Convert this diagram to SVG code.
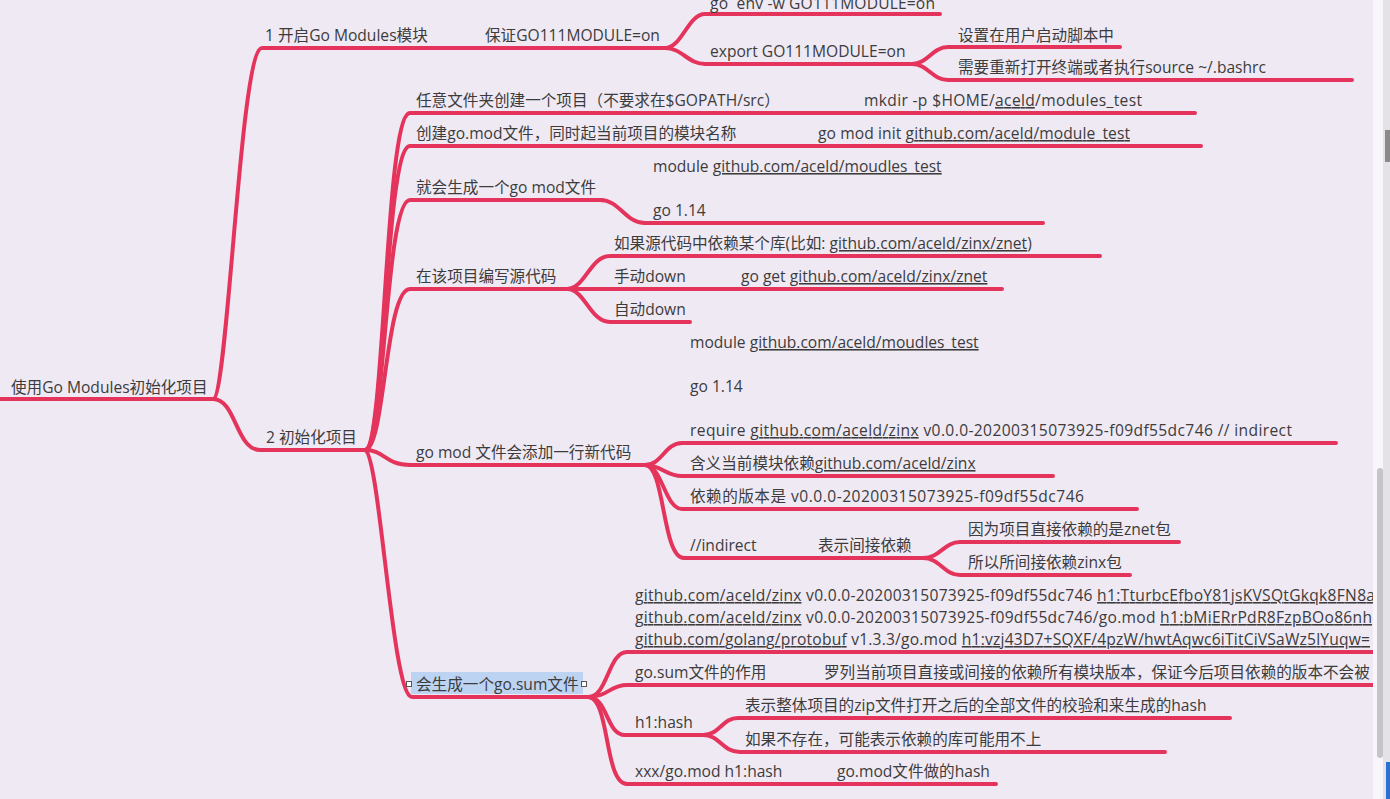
<svg xmlns="http://www.w3.org/2000/svg" width="1390" height="799" viewBox="0 0 1390 799">
<style>
.t{font-family:"Open Sans","Noto Sans CJK SC",sans-serif;font-size:15.6px;fill:#3c3c3c}
.l{fill:none;stroke:#e5345c;stroke-width:4;stroke-linecap:round;stroke-linejoin:round}
.u{text-decoration:underline}
.s{text-decoration:underline dotted #e0506e}
</style>
<defs>
<clipPath id="cv"><rect x="0" y="0" width="1373" height="799"/></clipPath>
</defs>
<rect width="1390" height="799" fill="#efe9f4"/>
<g clip-path="url(#cv)">
<g id="connectors">
<path class="l" d="M0,399 H213"/>
<path class="l" d="M213,399 C228,399 240,48 262,48 H667"/>
<path class="l" d="M665,48 C682,48 688,14 705,14 H940"/>
<path class="l" d="M665,48 C682,48 688,64 705,64 H912"/>
<path class="l" d="M912,64 C928,64 932,47 948,47 H1120"/>
<path class="l" d="M912,64 C928,64 932,80 948,80 H1352"/>
<path class="l" d="M213,399 C236,399 236,450 260,450 H365"/>
<path class="l" d="M365,450 C385,450 385,113 410,113 H1195"/>
<path class="l" d="M365,450 C385,450 385,146 410,146 H1201"/>
<path class="l" d="M365,450 C385,450 385,200 410,200 H602"/>
<path class="l" d="M600,200 C620,200 625,223 645,223 H1043"/>
<path class="l" d="M365,450 C385,450 385,289 410,289 H567"/>
<path class="l" d="M567,289 C585,289 590,256 610,256 H1100"/>
<path class="l" d="M567,289 H1002"/>
<path class="l" d="M567,289 C585,289 590,322 610,322 H690"/>
<path class="l" d="M365,450 C385,450 385,465 410,465 H645"/>
<path class="l" d="M645,465 C662,465 665,443 682,443 H1336"/>
<path class="l" d="M645,465 C662,465 665,476 682,476 H1053"/>
<path class="l" d="M645,465 C662,465 665,509 682,509 H1137"/>
<path class="l" d="M645,465 C665,465 662,558 684,558 H925"/>
<path class="l" d="M923,558 C940,558 944,542 960,542 H1179"/>
<path class="l" d="M923,558 C940,558 944,575 960,575 H1130"/>
<path class="l" d="M365,450 C380,455 392,697 412,697 H588"/>
<path class="l" d="M588,697 C608,697 608,652 627,652 H1380"/>
<path class="l" d="M588,697 C608,697 610,685 627,685 H1380"/>
<path class="l" d="M588,697 C608,697 606,735 625,735 H703"/>
<path class="l" d="M703,735 C720,735 722,718 738,718 H1230"/>
<path class="l" d="M703,735 C720,735 722,752 740,752 H1165"/>
<path class="l" d="M588,697 C610,697 604,784 627,784 H996"/>
</g>
<g id="root"><text class="t" x="11" y="393">使用Go Modules初始化项目</text></g>
<g id="n1"><text class="t" x="265" y="41">1 开启Go Modules模块</text></g>
<g id="n1-1"><text class="t" x="485" y="41">保证GO111MODULE=on</text></g>
<g id="n1-1-1"><text class="t" x="710" y="9" xml:space="preserve" textLength="225" lengthAdjust="spacing">go  env -w GO111MODULE=on</text></g>
<g id="n1-1-2"><text class="t" x="710" y="57">export GO111MODULE=on</text></g>
<g id="n1-1-2-1"><text class="t" x="958" y="41">设置在用户启动脚本中</text></g>
<g id="n1-1-2-2"><text class="t" x="958" y="73">需要重新打开终端或者执行source ~/.bashrc</text></g>
<g id="n2"><text class="t" x="266" y="443">2 初始化项目</text></g>
<g id="n2-a"><text class="t" x="416" y="106">任意文件夹创建一个项目（不要求在$GOPATH/src）</text></g>
<g id="n2-a-1"><text class="t" x="864" y="106" textLength="278" lengthAdjust="spacing">mkdir -p $HOME/<tspan class="s">aceld</tspan>/modules_test</text></g>
<g id="n2-b"><text class="t" x="416" y="139">创建go.mod文件，同时起当前项目的模块名称</text></g>
<g id="n2-b-1"><text class="t" x="818" y="139" textLength="312" lengthAdjust="spacing">go mod init <tspan class="u">github.com/aceld/module_test</tspan></text></g>
<g id="n2-c"><text class="t" x="416" y="193">就会生成一个go mod文件</text></g>
<g id="n2-c-1">
<text class="t" x="653" y="172">module <tspan class="u">github.com/aceld/moudles_test</tspan></text>
<text class="t" x="653" y="216">go 1.14</text>
</g>
<g id="n2-d"><text class="t" x="416" y="282">在该项目编写源代码</text></g>
<g id="n2-d-1"><text class="t" x="614" y="249">如果源代码中依赖某个库(比如: <tspan class="u">github.com/aceld/zinx/znet</tspan>)</text></g>
<g id="n2-d-2"><text class="t" x="614" y="282">手动down</text></g>
<g id="n2-d-2-1"><text class="t" x="741" y="282">go get <tspan class="u">github.com/aceld/zinx/znet</tspan></text></g>
<g id="n2-d-3"><text class="t" x="614" y="315">自动down</text></g>
<g id="n2-e"><text class="t" x="416" y="458">go mod 文件会添加一行新代码</text></g>
<g id="n2-e-1">
<text class="t" x="690" y="348">module <tspan class="u">github.com/aceld/moudles_test</tspan></text>
<text class="t" x="690" y="392">go 1.14</text>
<text class="t" x="690" y="436" textLength="602" lengthAdjust="spacing">require <tspan class="u">github.com/aceld/zinx</tspan> v0.0.0-20200315073925-f09df55dc746 // indirect</text>
</g>
<g id="n2-e-2"><text class="t" x="690" y="469">含义当前模块依赖<tspan class="u">github.com/aceld/zinx</tspan></text></g>
<g id="n2-e-3"><text class="t" x="690" y="502" textLength="394" lengthAdjust="spacing">依赖的版本是 v0.0.0-20200315073925-f09df55dc746</text></g>
<g id="n2-e-4"><text class="t" x="690" y="551">//indirect</text></g>
<g id="n2-e-4-1"><text class="t" x="818" y="551">表示间接依赖</text></g>
<g id="n2-e-4-1-1"><text class="t" x="968" y="535">因为项目直接依赖的是znet包</text></g>
<g id="n2-e-4-1-2"><text class="t" x="968" y="568">所以所间接依赖zinx包</text></g>
<g id="n2-f">
<rect x="411" y="672" width="172" height="22" fill="#bcd3f2"/>
<rect x="406.5" y="681.5" width="5" height="5" fill="#ffffff" stroke="#555" stroke-width="1"/>
<rect x="581.5" y="681.5" width="5" height="5" fill="#ffffff" stroke="#555" stroke-width="1"/>
<text class="t" x="416" y="690">会生成一个go.sum文件</text>
</g>
<g id="n2-f-1">
<text class="t" x="635" y="601" textLength="740" lengthAdjust="spacing"><tspan class="u">github.com/aceld/zinx</tspan> v0.0.0-20200315073925-f09df55dc746 <tspan class="s">h1:TturbcEfboY81jsKVSQtGkqk8FN8a</tspan></text>
<text class="t" x="635" y="623" textLength="737" lengthAdjust="spacing"><tspan class="u">github.com/aceld/zinx</tspan> v0.0.0-20200315073925-f09df55dc746/go.mod <tspan class="s">h1:bMiERrPdR8FzpBOo86nh</tspan></text>
<text class="t" x="635" y="645" textLength="735" lengthAdjust="spacing"><tspan class="u">github.com/golang/protobuf</tspan> v1.3.3/go.mod <tspan class="s">h1:vzj43D7+SQXF/4pzW/hwtAqwc6iTitCiVSaWz5lYuqw=</tspan></text>
</g>
<g id="n2-f-2"><text class="t" x="635" y="678">go.sum文件的作用</text></g>
<g id="n2-f-2-1"><text class="t" x="824" y="678">罗列当前项目直接或间接的依赖所有模块版本，保证今后项目依赖的版本不会被</text></g>
<g id="n2-f-3"><text class="t" x="635" y="728">h1:hash</text></g>
<g id="n2-f-3-1"><text class="t" x="745" y="711">表示整体项目的zip文件打开之后的全部文件的校验和来生成的hash</text></g>
<g id="n2-f-3-2"><text class="t" x="745" y="745">如果不存在，可能表示依赖的库可能用不上</text></g>
<g id="n2-f-4"><text class="t" x="635" y="777">xxx/go.mod h1:hash</text></g>
<g id="n2-f-4-1"><text class="t" x="837" y="777">go.mod文件做的hash</text></g>
</g>
<g id="scrollbar">
<rect x="1373" y="0" width="17" height="799" fill="#f8f6fa"/>
<rect x="1383" y="0" width="7" height="799" fill="#e4e2e6"/>
<rect x="1385" y="130" width="5" height="32" fill="#8a8a8a"/>
<rect x="1377" y="468" width="6" height="290" rx="3" fill="#c6c4c8"/>
<rect x="1386" y="762" width="4" height="37" fill="#2a6fd6"/>
</g>
</svg>
